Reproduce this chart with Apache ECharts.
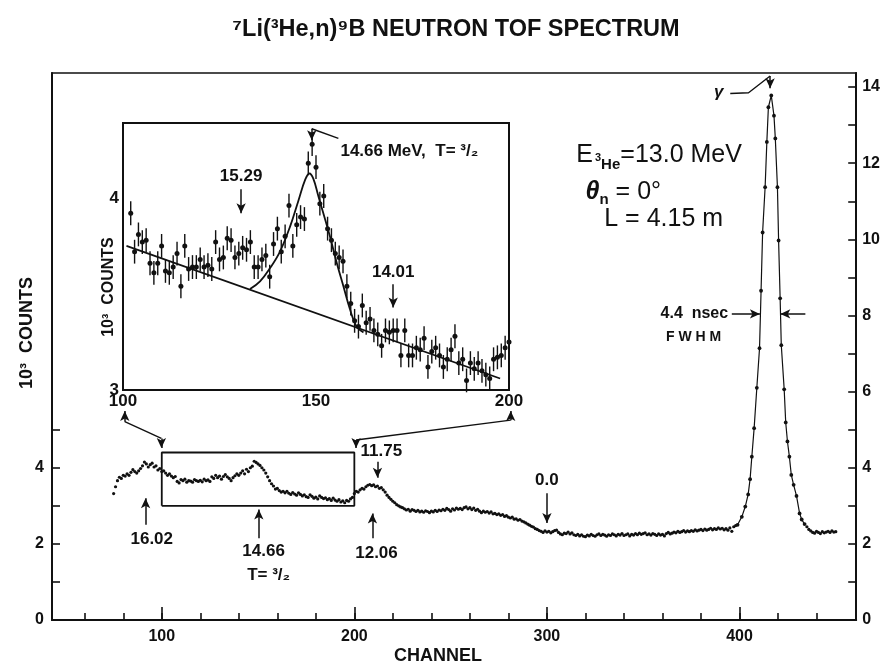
<!DOCTYPE html>
<html>
<head>
    <meta charset="utf-8">
    <title>7Li(3He,n)9B TOF</title>
    <script src="https://cdn.jsdelivr.net/npm/echarts@6/dist/echarts.min.js"></script>
    <style>
        html, body { margin: 0; padding: 0; background: #fff; }
        #chart { width: 883px; height: 667px; }
    </style>
</head>
<body>
<div id="chart"></div>
<script>
    // main spectrum, one value per channel (10^3 counts)
    var mainFirst = 75;
    var mainCounts = [
        3.32, 3.50, 3.66, 3.75, 3.72, 3.80, 3.78, 3.84, 3.80, 3.88,
        3.95, 3.90, 3.86, 3.92, 3.98, 4.05, 4.15, 4.10, 4.02, 4.08,
        4.12, 4.02, 4.05, 3.94, 3.98, 3.90, 3.92, 3.86, 3.80, 3.84,
        3.78, 3.74, 3.77, 3.64, 3.60, 3.69, 3.66, 3.70, 3.62, 3.66,
        3.65, 3.62, 3.69, 3.66, 3.64, 3.67, 3.63, 3.70, 3.66, 3.68,
        3.64, 3.76, 3.72, 3.80, 3.74, 3.78, 3.70, 3.77, 3.82, 3.76,
        3.72, 3.66, 3.74, 3.79, 3.84, 3.80, 3.86, 3.92, 3.84, 3.96,
        3.90, 4.00, 4.04, 4.17, 4.14, 4.10, 4.06, 4.00, 3.94, 3.86,
        3.76, 3.66, 3.58, 3.52, 3.44, 3.46, 3.40, 3.36, 3.38, 3.34,
        3.38, 3.33, 3.30, 3.35, 3.31, 3.28, 3.34, 3.30, 3.26, 3.29,
        3.24, 3.22, 3.29, 3.25, 3.20, 3.23, 3.18, 3.26, 3.22, 3.19,
        3.21, 3.16, 3.19, 3.14, 3.20, 3.15, 3.12, 3.16, 3.10, 3.13,
        3.08, 3.14, 3.12, 3.18, 3.22, 3.32, 3.38, 3.36, 3.42, 3.46,
        3.44, 3.50, 3.54, 3.56, 3.53, 3.55, 3.50, 3.52, 3.46, 3.48,
        3.42, 3.36, 3.28, 3.22, 3.17, 3.12, 3.08, 3.03, 3.00, 2.97,
        2.95, 2.92, 2.89, 2.91, 2.86, 2.90, 2.88, 2.85, 2.88, 2.84,
        2.86, 2.83, 2.87, 2.85, 2.82, 2.86, 2.84, 2.88, 2.85, 2.89,
        2.87, 2.91, 2.88, 2.93, 2.90, 2.86, 2.92, 2.89, 2.94, 2.91,
        2.93, 2.90, 2.95, 2.97, 2.92, 2.95, 2.90, 2.94, 2.88, 2.91,
        2.86, 2.82, 2.86, 2.83, 2.85, 2.81, 2.84, 2.79, 2.80, 2.77,
        2.79, 2.75, 2.77, 2.72, 2.74, 2.70, 2.68, 2.70, 2.65, 2.66,
        2.62, 2.64, 2.60, 2.58, 2.55, 2.52, 2.49, 2.46, 2.44, 2.40,
        2.38, 2.35, 2.33, 2.30, 2.34, 2.31, 2.33, 2.29, 2.32, 2.35,
        2.36, 2.30, 2.26, 2.24, 2.28, 2.27, 2.31, 2.26, 2.29, 2.24,
        2.22, 2.25, 2.21, 2.24, 2.20, 2.19, 2.23, 2.21, 2.25, 2.22,
        2.20, 2.24, 2.26, 2.22, 2.25, 2.23, 2.20, 2.24, 2.22, 2.26,
        2.24, 2.21, 2.25, 2.23, 2.27, 2.22, 2.24, 2.26, 2.21, 2.25,
        2.23, 2.27, 2.24, 2.28, 2.25, 2.27, 2.29, 2.24, 2.26, 2.23,
        2.27, 2.25, 2.22, 2.26, 2.23, 2.25, 2.21, 2.27, 2.30, 2.26,
        2.28, 2.31, 2.29, 2.33, 2.30, 2.32, 2.35, 2.31, 2.34, 2.32,
        2.35, 2.33, 2.37, 2.34, 2.36, 2.38, 2.35, 2.39, 2.36, 2.38,
        2.41, 2.37, 2.40, 2.38, 2.42, 2.39, 2.41, 2.37, 2.40, 2.36,
        2.42, 2.33, 2.45, 2.48
    ];
    // gamma peak, points joined by a line
    var peakChannels = [399.0, 401.2, 403.0, 404.5, 405.5, 406.4, 407.6, 409.0, 410.4, 411.2, 412.0, 413.3, 414.2, 415.0,
        416.5, 417.9, 418.6, 419.7, 420.3, 421.1, 421.7, 423.2, 424.0, 424.9, 425.9, 426.9, 428.1, 429.6, 431.2, 432.3, 433.8];
    var peakCounts = [2.50, 2.71, 2.98, 3.30, 3.70, 4.29, 5.04, 6.10, 7.14, 8.65, 10.18, 11.37, 12.56, 13.47,
        13.78, 13.25, 12.65, 11.37, 9.97, 8.45, 7.22, 6.06, 5.19, 4.69, 4.29, 3.81, 3.55, 3.26, 2.80, 2.64, 2.52];
    var tailFirst = 435;
    var tailCounts = [2.45, 2.38, 2.34, 2.30, 2.28, 2.33, 2.30, 2.27, 2.32, 2.29, 2.31, 2.33, 2.30, 2.34, 2.31, 2.32];

    // inset: channels 100-200 with error bars
    var insetFirst = 102;
    var insetCounts = [
        3.92, 3.72, 3.81, 3.77, 3.78, 3.66, 3.61, 3.66, 3.75, 3.62,
        3.61, 3.64, 3.71, 3.54, 3.75, 3.63, 3.64, 3.64, 3.68, 3.64,
        3.65, 3.63, 3.77, 3.68, 3.69, 3.79, 3.78, 3.69, 3.71, 3.74,
        3.73, 3.77, 3.64, 3.64, 3.68, 3.70, 3.59, 3.76, 3.84, 3.72,
        3.80, 3.96, 3.75, 3.86, 3.90, 3.89, 4.18, 4.28, 4.16, 3.97,
        4.01, 3.84, 3.78, 3.71, 3.69, 3.67, 3.54, 3.45, 3.36, 3.33,
        3.44, 3.35, 3.37, 3.31, 3.29, 3.23, 3.31, 3.30, 3.31, 3.31,
        3.18, 3.31, 3.18, 3.18, 3.22, 3.21, 3.27, 3.12, 3.20, 3.22,
        3.18, 3.12, 3.16, 3.21, 3.28, 3.14, 3.16, 3.05, 3.14, 3.11,
        3.14, 3.10, 3.08, 3.06, 3.16, 3.17, 3.18, 3.22, 3.25
    ];
    var insetErr = 0.062;
    var bgChannels = [100.9, 197.7];
    var bgCounts = [3.75, 3.06];
    var fitChannels = [132.9, 135.5, 138.1, 140.7, 143.3, 145.4, 147.2, 148.3, 149.3, 150.6, 151.9, 153.6, 155.4, 157.1, 158.8, 160.5, 162.3];
    var fitCounts = [3.526, 3.566, 3.635, 3.722, 3.852, 3.983, 4.095, 4.127, 4.10, 4.01, 3.92, 3.80, 3.66, 3.54, 3.42, 3.33, 3.30];

    // axis ticks and labels
    var mainXTicks = [60, 80, 100, 120, 140, 160, 180, 200, 220, 240, 260, 280, 300, 320, 340, 360, 380, 400, 420, 440];
    var mainXLabels = [100, 200, 300, 400];
    var leftTicks = [1, 2, 3, 4, 5];
    var leftLabels = [0, 2, 4];
    var rightTicks = [1, 2, 3, 4, 5, 6, 7, 8, 9, 10, 11, 12, 13, 14];
    var rightLabels = [0, 2, 4, 6, 8, 10, 12, 14];
    var insetXTicks = [110, 120, 130, 140, 150, 160, 170, 180, 190];
    var insetXLabels = [100, 150, 200];
    var insetYTicks = [3.2, 3.4, 3.6, 3.8, 4.0, 4.2];
    var insetYLabels = [3, 4];

    // annotations [x, y, text]
    var mainNotes = [[94.8, 2.12, '16.02'], [152.9, 1.80, '14.66'], [211.5, 1.76, '12.06'], [214, 4.44, '11.75'], [300, 3.68, '0.0']];
    var mainArrows = [[91.6, 2.50, 91.6, 3.20], [150.4, 2.15, 150.4, 2.90], [209.4, 2.15, 209.4, 2.80], [212, 4.16, 212, 3.74], [300, 3.33, 300, 2.55],
        [396, 8.04, 410.6, 8.04], [434.2, 8.04, 421.2, 8.04], [415.9, 14.29, 415.9, 13.97]];
    var boxCorners = [[100, 3.0], [200, 3.0], [200, 4.4], [100, 4.4], [100, 3.0]];
    var leftLink = [[80.8, 5.21], [99.8, 4.77]];
    var rightLink = [[281.2, 5.25], [200.9, 4.73]];
    var gammaLink = [[395.2, 13.83], [404.7, 13.85], [415.9, 14.29]];
    var insetNotes = [[130.6, 4.11, '15.29'], [170, 3.615, '14.01']];
    var insetArrows = [[130.6, 4.045, 130.6, 3.92], [170, 3.55, 170, 3.43], [148.9, 4.36, 148.9, 4.30]];
    var insetLink = [[155.8, 4.31], [148.9, 4.36]];

    var ink = '#111';
    var FONT = 'Liberation Sans';
    var clear = {color: 'rgba(0,0,0,0)', opacity: 1};

    function pairs(first, arr) {
        return arr.map(function (v, i) { return [first + i, v]; });
    }
    function zip(xs, ys) {
        return xs.map(function (x, i) { return [x, ys[i]]; });
    }
    function seg(a, arrowStart, arrowEnd) {
        return [{coord: [a[0], a[1]], symbol: arrowStart ? 'arrow' : 'none'},
            {coord: [a[2], a[3]], symbol: arrowEnd ? 'arrow' : 'none'}];
    }
    function polyline(xi, yi, pts, width) {
        return {
            type: 'line', xAxisIndex: xi, yAxisIndex: yi, data: pts, symbol: 'none', silent: true,
            lineStyle: {color: ink, width: width || 1.4}, z: 4
        };
    }
    function noteSeries(xi, yi, items, size) {
        return {
            type: 'scatter', xAxisIndex: xi, yAxisIndex: yi, symbolSize: 1, silent: true,
            itemStyle: clear,
            label: {show: true, position: 'inside', color: ink, fontFamily: FONT, fontWeight: 'bold', fontSize: size || 17},
            data: items.map(function (t) {
                return {value: [t[0], t[1]], label: {formatter: t[2]}};
            }),
            z: 10
        };
    }

    var arrowLine = {
        silent: true, animation: false, symbol: ['none', 'arrow'], symbolSize: [7, 10],
        label: {show: false}, lineStyle: {color: ink, width: 1.5, type: 'solid'}
    };
    var tickFont = {fontSize: 16, color: ink, fontWeight: 'bold', fontFamily: FONT};

    var mainDots = pairs(mainFirst, mainCounts).concat(pairs(tailFirst, tailCounts));
    var insetData = pairs(insetFirst, insetCounts);

    var chart = echarts.init(document.getElementById('chart'));
    var option = {
        animation: false,
        backgroundColor: '#fff',
        textStyle: {fontFamily: FONT, color: ink},
        grid: [
            {left: 52, right: 25, top: 73, bottom: 47, show: true, borderColor: ink, borderWidth: 1.5},
            {left: 123, right: 374, top: 123, bottom: 277, show: true, borderColor: ink, borderWidth: 2, backgroundColor: '#fff', z: 3}
        ],
        xAxis: [
            {
                gridIndex: 0, type: 'value', position: 'bottom', min: 43, max: 460.6,
                axisLine: {lineStyle: {color: ink, width: 2}},
                axisTick: {inside: true, length: 7, customValues: mainXTicks, lineStyle: {color: ink, width: 1.6}},
                axisLabel: Object.assign({customValues: mainXLabels, margin: 9}, tickFont),
                splitLine: {show: false}
            },
            {
                gridIndex: 0, type: 'value', position: 'bottom', min: 43, max: 460.6,
                axisLine: {show: false},
                axisTick: {inside: true, length: 13, customValues: mainXLabels, lineStyle: {color: ink, width: 1.6}},
                axisLabel: {show: false},
                splitLine: {show: false}
            },
            {
                gridIndex: 1, type: 'value', position: 'bottom', min: 100, max: 200,
                axisLine: {lineStyle: {color: ink, width: 2}},
                axisTick: {inside: true, length: 7, customValues: insetXTicks, lineStyle: {color: ink, width: 1.3}},
                axisLabel: Object.assign({customValues: insetXLabels, margin: 3}, tickFont, {fontSize: 17}),
                splitLine: {show: false}
            }
        ],
        yAxis: [
            {
                gridIndex: 0, type: 'value', position: 'left', min: 0, max: 14.37,
                axisLine: {lineStyle: {color: ink, width: 2}},
                axisTick: {inside: true, length: 8, customValues: leftTicks, lineStyle: {color: ink, width: 1.6}},
                axisLabel: Object.assign({customValues: leftLabels, margin: 8}, tickFont),
                splitLine: {show: false}
            },
            {
                gridIndex: 0, type: 'value', position: 'right', min: 0, max: 14.37,
                axisLine: {lineStyle: {color: ink, width: 2}},
                axisTick: {inside: true, length: 8, customValues: rightTicks, lineStyle: {color: ink, width: 1.6}},
                axisLabel: Object.assign({customValues: rightLabels, margin: 6}, tickFont),
                splitLine: {show: false}
            },
            {
                gridIndex: 1, type: 'value', position: 'left', min: 3, max: 4.39,
                axisLine: {lineStyle: {color: ink, width: 2}},
                axisTick: {inside: true, length: 8, customValues: insetYTicks, lineStyle: {color: ink, width: 1.3}},
                axisLabel: Object.assign({customValues: insetYLabels, margin: 4}, tickFont, {fontSize: 17}),
                splitLine: {show: false}
            }
        ],
        graphic: [
            {type: 'text', x: 456, y: 30, style: {text: '⁷Li(³He,n)⁹B NEUTRON TOF SPECTRUM', font: 'bold 23.5px "Liberation Sans"', fill: ink, textAlign: 'center', textVerticalAlign: 'middle'}},
            {type: 'text', x: 438, y: 656, style: {text: 'CHANNEL', font: 'bold 18px "Liberation Sans"', fill: ink, textAlign: 'center', textVerticalAlign: 'middle'}},
            {type: 'text', x: 27, y: 333, rotation: Math.PI / 2, style: {text: '10³  COUNTS', font: 'bold 18px "Liberation Sans"', fill: ink, textAlign: 'center', textVerticalAlign: 'middle'}},
            {type: 'text', x: 109, y: 287, rotation: Math.PI / 2, z: 20, style: {text: '10³  COUNTS', font: 'bold 16px "Liberation Sans"', fill: ink, textAlign: 'center', textVerticalAlign: 'middle'}}
        ],
        series: [
            {
                name: 'spectrum', type: 'scatter', xAxisIndex: 0, yAxisIndex: 0, data: mainDots,
                symbol: 'circle', symbolSize: 3.2, itemStyle: {color: ink, opacity: 1}, silent: true
            },
            {
                name: 'gamma', type: 'line', xAxisIndex: 0, yAxisIndex: 0, data: zip(peakChannels, peakCounts),
                symbol: 'circle', symbolSize: 3.8, itemStyle: {color: ink}, lineStyle: {color: ink, width: 1.2}, silent: true
            },
            {
                name: 'box', type: 'line', xAxisIndex: 0, yAxisIndex: 0, data: boxCorners, symbol: 'none', silent: true,
                lineStyle: {color: ink, width: 1.8},
                markLine: Object.assign({}, arrowLine, {
                    data: mainArrows.map(function (a) { return seg(a, false, true); }).concat([
                        seg([80.8, 5.21, 80.8, 5.49], false, true),
                        seg([99.8, 4.77, 99.8, 4.52], false, true),
                        seg([281.2, 5.25, 281.2, 5.49], false, true),
                        seg([200.9, 4.73, 200.9, 4.52], false, true)
                    ])
                })
            },
            polyline(0, 0, leftLink),
            polyline(0, 0, rightLink),
            polyline(0, 0, gammaLink),
            noteSeries(0, 0, mainNotes, 17),
            {
                type: 'scatter', xAxisIndex: 0, yAxisIndex: 0, symbolSize: 1, silent: true, itemStyle: clear, z: 10,
                label: {show: true, color: ink, fontFamily: FONT, fontWeight: 'bold'},
                data: [
                    {value: [155.5, 1.18], label: {position: 'inside', formatter: 'T= ³/₂', fontSize: 17}},
                    {value: [395.4, 8.04], label: {position: 'left', distance: 2, formatter: '4.4  nsec', fontSize: 16}},
                    {value: [376.2, 7.43], label: {position: 'inside', formatter: 'F W H M', fontSize: 14}},
                    {value: [389.2, 13.86], label: {position: 'inside', formatter: 'γ', fontSize: 17, fontStyle: 'italic'}},
                    {
                        value: [315, 12.2], label: {
                            position: 'right', distance: 0,
                            formatter: '{a|E}{b|3}{c|He}{a|=13.0 MeV}',
                            rich: {
                                a: {fontSize: 25, lineHeight: 34, color: ink, fontFamily: FONT, fontWeight: 'normal'},
                                b: {fontSize: 11, lineHeight: 12, color: ink, fontFamily: FONT, fontWeight: 'bold', verticalAlign: 'middle', padding: [4, 0, 0, 2]},
                                c: {fontSize: 15, lineHeight: 15, color: ink, fontFamily: FONT, fontWeight: 'bold', verticalAlign: 'bottom'}
                            }
                        }
                    },
                    {
                        value: [319.8, 11.23], label: {
                            position: 'right', distance: 0,
                            formatter: '{t|θ}{c|n}{a| = 0°}',
                            rich: {
                                t: {fontSize: 25, lineHeight: 30, color: ink, fontFamily: FONT, fontStyle: 'italic', fontWeight: 'bold'},
                                a: {fontSize: 25, lineHeight: 30, color: ink, fontFamily: FONT, fontWeight: 'normal'},
                                c: {fontSize: 15, lineHeight: 15, color: ink, fontFamily: FONT, fontWeight: 'bold', verticalAlign: 'bottom'}
                            }
                        }
                    },
                    {value: [329.5, 10.52], label: {position: 'right', distance: 0, formatter: 'L = 4.15 m', fontSize: 25, fontWeight: 'normal'}}
                ]
            },

            // inset
            {
                name: 'background', type: 'line', xAxisIndex: 2, yAxisIndex: 2, data: zip(bgChannels, bgCounts),
                symbol: 'none', silent: true, lineStyle: {color: ink, width: 1.8}, z: 5
            },
            {
                name: 'fit', type: 'line', xAxisIndex: 2, yAxisIndex: 2, data: zip(fitChannels, fitCounts), smooth: 0.4,
                symbol: 'none', silent: true, lineStyle: {color: ink, width: 1.8}, z: 5,
                markLine: Object.assign({}, arrowLine, {
                    data: insetArrows.map(function (a) { return seg(a, false, true); })
                })
            },
            polyline(2, 2, insetLink),
            {
                name: 'errors', type: 'custom', xAxisIndex: 2, yAxisIndex: 2, data: insetData, silent: true, z: 6,
                renderItem: function (params, api) {
                    var x = api.value(0), y = api.value(1);
                    var lo = api.coord([x, y - insetErr]);
                    var hi = api.coord([x, y + insetErr]);
                    return {
                        type: 'line',
                        shape: {x1: lo[0], y1: lo[1], x2: hi[0], y2: hi[1]},
                        style: {stroke: ink, lineWidth: 1.4}
                    };
                }
            },
            {
                name: 'inset points', type: 'scatter', xAxisIndex: 2, yAxisIndex: 2, data: insetData,
                symbol: 'circle', symbolSize: 5, itemStyle: {color: ink, opacity: 1}, silent: true, z: 7
            },
            noteSeries(2, 2, insetNotes, 17),
            {
                type: 'scatter', xAxisIndex: 2, yAxisIndex: 2, symbolSize: 1, silent: true, itemStyle: clear, z: 10,
                data: [{value: [156.2, 4.245], label: {show: true, position: 'right', distance: 0, formatter: '14.66 MeV,  T= ³/₂', fontSize: 17, fontWeight: 'bold', color: ink, fontFamily: FONT}}]
            }
        ]
    };
    chart.setOption(option);
</script>
</body>
</html>
